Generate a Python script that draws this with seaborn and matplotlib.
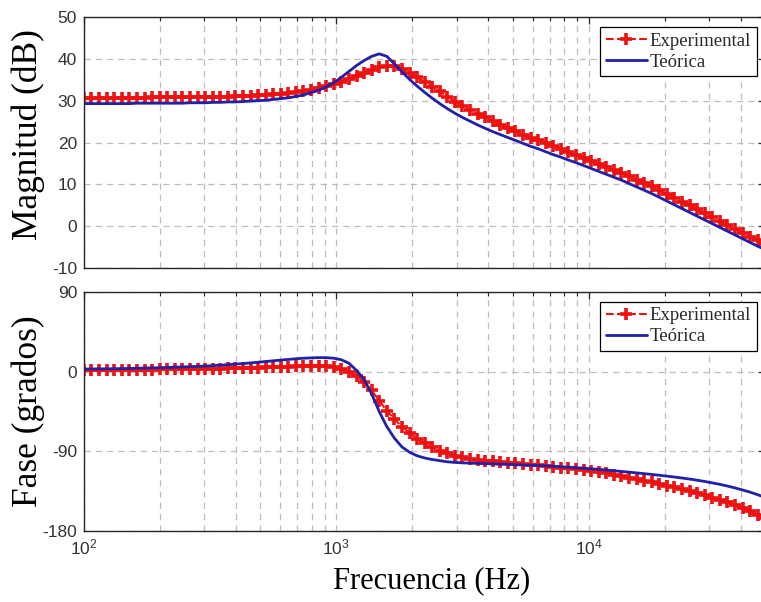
import numpy as np
import pandas as pd
import matplotlib
matplotlib.use("Agg")
import matplotlib.pyplot as plt
import seaborn as sns
from matplotlib.ticker import LogLocator, NullFormatter, FixedLocator

freq_hz = [100, 107, 115, 123, 132, 141, 151, 162, 174, 186,
           200, 214, 229, 245, 263, 282, 302, 324, 347, 372,
           398, 427, 457, 490, 525, 562, 603, 646, 692, 741,
           794, 851, 912, 977, 1047, 1122, 1202, 1288, 1380, 1479,
           1585, 1698, 1820, 1950, 2089, 2239, 2399, 2570, 2754, 2951,
           3162, 3388, 3631, 3890, 4169, 4467, 4786, 5129, 5495, 5888,
           6310, 6761, 7244, 7762, 8318, 8913, 9550, 10233, 10965, 11749,
           12589, 13490, 14454, 15488, 16596, 17783, 19055, 20417, 21878, 23442,
           25119, 26915, 28840, 30903, 33113, 35481, 38019, 40738, 43652, 46774,
           50119]

mag_teo = [29.3, 29.3, 29.3, 29.3, 29.3, 29.3, 29.3, 29.4, 29.4, 29.4,
           29.4, 29.4, 29.4, 29.4, 29.5, 29.5, 29.5, 29.6, 29.6, 29.7,
           29.7, 29.8, 29.9, 30.0, 30.1, 30.3, 30.5, 30.7, 31.0, 31.4,
           31.9, 32.5, 33.3, 34.3, 35.6, 37.0, 38.4, 39.6, 40.6, 41.2,
           40.6, 38.8, 36.9, 35.1, 33.5, 32.0, 30.6, 29.3, 28.1, 27.0,
           26.0, 25.1, 24.2, 23.4, 22.6, 21.9, 21.2, 20.5, 19.8, 19.1,
           18.5, 17.8, 17.1, 16.5, 15.8, 15.2, 14.5, 13.8, 13.1, 12.4,
           11.7, 11.0, 10.2, 9.4, 8.6, 7.8, 6.9, 6.0, 5.1, 4.2,
           3.3, 2.4, 1.5, 0.6, -0.3, -1.2, -2.1, -3.0, -3.9, -4.8,
           -5.6]

mag_exp = [30.6, 30.6, 30.6, 30.6, 30.7, 30.7, 30.7, 30.7, 30.7, 30.8,
           30.8, 30.8, 30.8, 30.8, 30.9, 30.9, 30.9, 31.0, 31.0, 31.0,
           31.1, 31.2, 31.2, 31.3, 31.4, 31.5, 31.6, 31.8, 32.0, 32.3,
           32.6, 33.0, 33.4, 33.9, 34.5, 35.2, 35.9, 36.7, 37.4, 38.0,
           38.4, 38.2, 37.5, 36.6, 35.6, 34.5, 33.3, 32.2, 31.0, 29.8,
           28.8, 27.8, 26.9, 26.0, 25.1, 24.3, 23.5, 22.7, 21.9, 21.2,
           20.5, 19.8, 19.1, 18.4, 17.7, 17.0, 16.3, 15.6, 14.9, 14.2,
           13.4, 12.7, 11.9, 11.1, 10.3, 9.5, 8.6, 7.7, 6.8, 5.9,
           5.0, 4.0, 3.1, 2.1, 1.2, 0.2, -0.7, -1.6, -2.5, -3.4,
           -4.3]

fase_teo = [3.0, 3.1, 3.2, 3.3, 3.4, 3.5, 3.7, 3.9, 4.1, 4.3,
            4.5, 4.8, 5.1, 5.4, 5.7, 6.0, 6.4, 6.8, 7.3, 7.9,
            8.5, 9.2, 9.9, 10.7, 11.5, 12.3, 13.1, 13.9, 14.6, 15.2,
            15.6, 15.9, 15.8, 15.2, 13.5, 9.5, 1.5, -9.0, -25.0, -45.0,
            -62.0, -75.0, -85.0, -91.0, -95.0, -97.5, -99.2, -100.5, -101.8, -102.5,
            -103.0, -103.3, -103.6, -103.9, -104.2, -104.5, -104.8, -105.1, -105.4, -105.7,
            -106.0, -106.4, -106.8, -107.3, -107.8, -108.4, -109.0, -109.7, -110.4, -111.1,
            -111.9, -112.7, -113.5, -114.3, -115.2, -116.1, -117.0, -118.0, -119.0, -120.1,
            -121.3, -122.6, -124.0, -125.6, -127.3, -129.2, -131.3, -133.6, -136.1, -139.0,
            -142.2]

fase_exp = [1.5, 1.6, 1.7, 1.8, 1.9, 2.0, 2.1, 2.2, 2.3, 2.4,
            2.5, 2.6, 2.7, 2.8, 2.9, 3.0, 3.1, 3.3, 3.5, 3.7,
            3.9, 4.1, 4.3, 4.6, 4.9, 5.2, 5.5, 5.8, 6.1, 6.4,
            6.6, 6.6, 6.2, 5.2, 3.0, -0.5, -5.0, -11.5, -21.0, -33.0,
            -44.0, -53.5, -62.0, -69.0, -75.5, -81.0, -85.5, -89.2, -92.3, -94.8,
            -96.8, -98.3, -99.5, -100.4, -101.1, -101.8, -102.6, -103.4, -104.2, -105.0,
            -105.8, -106.6, -107.5, -108.4, -109.3, -110.2, -111.1, -112.1, -113.4, -114.9,
            -116.5, -118.1, -119.8, -121.5, -123.2, -125.0, -126.8, -128.7, -130.7, -132.8,
            -135.0, -137.3, -139.7, -142.2, -144.9, -147.7, -151.0, -154.3, -157.8, -161.5,
            -165.3]

mag_ticks = [-10, 0, 10, 20, 30, 40, 50]
fase_ticks = [-180, -90, 0, 90]
label_exp = "Experimental"
label_teo = "Teórica"

sns.set_style("white")
plt.rcParams["font.family"] = ["Liberation Sans", "DejaVu Sans"]
plt.rcParams["axes.unicode_minus"] = False

RED = "#ee1111"
BLUE = "#2020a8"
GRID = "#bdbdbd"
SPINE = "#262626"

df = pd.DataFrame({"f": freq_hz, "mag_exp": mag_exp, "mag_teo": mag_teo,
                   "fase_exp": fase_exp, "fase_teo": fase_teo})

fig = plt.figure(figsize=(7.61, 6.02), dpi=100)
ax1 = fig.add_axes([0.1104, 0.5548, 0.8949, 0.4169])
ax2 = fig.add_axes([0.1104, 0.1179, 0.8949, 0.3970])

def style(ax, ylim, yticks):
    ax.set_xscale("log")
    ax.set_xlim(100, 50000)
    ax.set_ylim(*ylim)
    ax.yaxis.set_major_locator(FixedLocator(yticks))
    ax.xaxis.set_major_locator(LogLocator(base=10, numticks=10))
    ax.xaxis.set_minor_locator(LogLocator(base=10, subs=np.arange(2, 10), numticks=20))
    ax.xaxis.set_minor_formatter(NullFormatter())
    ax.grid(True, which="major", axis="both", color=GRID, linestyle=(0, (5, 4)), linewidth=0.9)
    ax.grid(True, which="minor", axis="x", color=GRID, linestyle=(0, (5, 4)), linewidth=0.9)
    ax.set_axisbelow(True)
    ax.tick_params(which="both", direction="in", top=True, right=True, colors=SPINE,
                   labelsize=12.5, pad=5)
    ax.tick_params(which="both", labelcolor="#333333")
    ax.tick_params(which="major", length=5, width=0.9)
    ax.tick_params(which="minor", length=3, width=0.8)
    for s in ax.spines.values():
        s.set_color(SPINE)
        s.set_linewidth(1.0)

for ax, ye, yt, ylim, ticks in [(ax1, "mag_exp", "mag_teo", (-10, 50), mag_ticks),
                                (ax2, "fase_exp", "fase_teo", (-180, 90), fase_ticks)]:
    sns.lineplot(data=df, x="f", y=ye, ax=ax, color=RED, linestyle="--", linewidth=1.5,
                 marker="+", markersize=8.5, markeredgewidth=2.6, markeredgecolor=RED,
                 label=label_exp, sort=False)
    sns.lineplot(data=df, x="f", y=yt, ax=ax, color=BLUE, linewidth=2.0,
                 label=label_teo, sort=False)
    style(ax, ylim, ticks)
    leg = ax.legend(loc="upper right", bbox_to_anchor=(0.988, 0.960), borderaxespad=0,
                    prop={"family": "Liberation Serif", "size": 13.5},
                    frameon=True, fancybox=False, edgecolor="black", framealpha=1,
                    borderpad=0.3, labelspacing=0.2, handlelength=2.2,
                    handletextpad=0.15, numpoints=1)
    leg.get_frame().set_linewidth(0.9)

ax1.tick_params(labelbottom=False)
ax1.set_xlabel("")
ax1.set_ylabel("Magnitud (dB)", fontfamily="Liberation Serif", fontsize=25.5, color="black")
ax2.set_ylabel("Fase (grados)", fontfamily="Liberation Serif", fontsize=25.5, color="black")
ax2.set_xlabel("Frecuencia (Hz)", fontfamily="Liberation Serif", fontsize=22, color="black")
ax1.yaxis.set_label_coords(-0.058, 0.53)
ax2.yaxis.set_label_coords(-0.058, 0.5)
ax2.xaxis.set_label_coords(0.51, -0.148)
ax2.xaxis.label.set_va("top")

fig.savefig("out.png", dpi=100)
